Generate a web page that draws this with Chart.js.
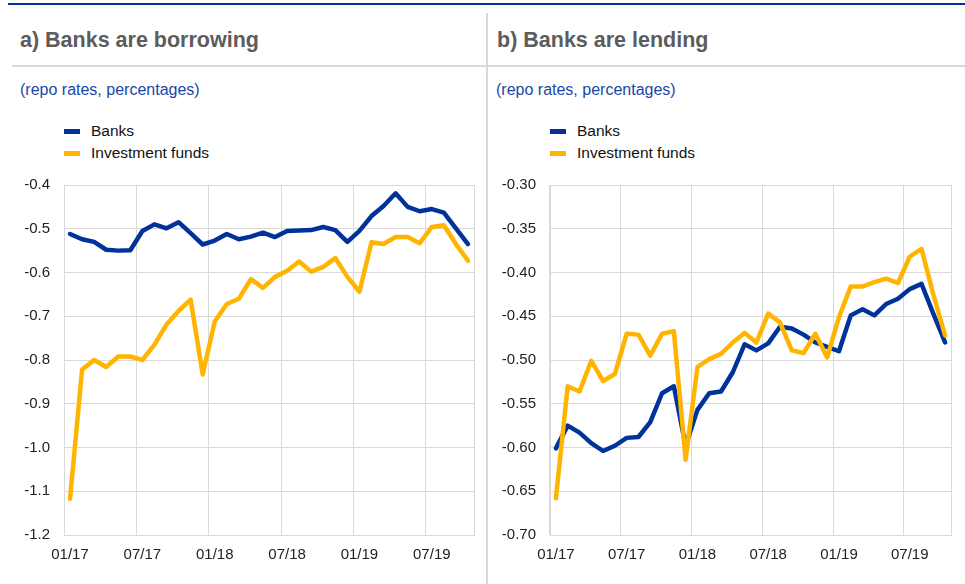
<!DOCTYPE html>
<html>
<head>
<meta charset="utf-8">
<script src="https://cdn.jsdelivr.net/npm/chart.js@4.4.1/dist/chart.umd.min.js"></script>
<style>
  body { margin: 0; background: #fff; font-family: "Liberation Sans", Arial, sans-serif; }
  #page { position: relative; width: 965px; height: 584px; overflow: hidden; }
  .topline { position: absolute; left: 8px; top: 3px; width: 957px; height: 2px; background: #003299; }
  .headline { position: absolute; left: 12px; top: 65px; width: 953px; height: 2px; background: #d9d9d9; }
  .sep { position: absolute; left: 486px; top: 13px; width: 2px; height: 571px; background: #d9d9d9; }
  .title { position: absolute; top: 28px; font-size: 21.5px; font-weight: bold; color: #5c5c5c; white-space: nowrap; }
  .sub { position: absolute; top: 81px; font-size: 16px; color: #1a47a6; white-space: nowrap; }
  .legend { position: absolute; top: 121px; font-size: 15.5px; color: #111; }
  .legend div { position: relative; height: 22px; line-height: 20px; padding-left: 27px; white-space: nowrap; }
  .legend span { position: absolute; left: 0; top: 8px; width: 16px; height: 5px; }
  canvas { position: absolute; top: 170px; }
</style>
</head>
<body>
<div id="page">
  <div class="topline"></div>
  <div class="headline"></div>
  <div class="sep"></div>

  <div class="title" style="left:20px">a) Banks are borrowing</div>
  <div class="title" style="left:497px">b) Banks are lending</div>
  <div class="sub" style="left:20px">(repo rates, percentages)</div>
  <div class="sub" style="left:496px">(repo rates, percentages)</div>
  <div class="legend" id="legendA" style="left:64px"></div>
  <div class="legend" id="legendB" style="left:550px"></div>

  <canvas id="chartA" width="487" height="414" style="left:0px"></canvas>
  <canvas id="chartB" width="477" height="414" style="left:488px"></canvas>
</div>

<script>
// months Jan 2017 - Oct 2019
const months = [
  '01/17', '02/17', '03/17', '04/17', '05/17', '06/17', '07/17', '08/17', '09/17', '10/17', '11/17', '12/17',
  '01/18', '02/18', '03/18', '04/18', '05/18', '06/18', '07/18', '08/18', '09/18', '10/18', '11/18', '12/18',
  '01/19', '02/19', '03/19', '04/19', '05/19', '06/19', '07/19', '08/19', '09/19', '10/19'
];

// a) banks are borrowing
const borrowBanks = [
  -0.512, -0.524, -0.530, -0.548, -0.550, -0.549, -0.505, -0.490, -0.499, -0.485, -0.510, -0.536,
  -0.527, -0.512, -0.524, -0.518, -0.509, -0.519, -0.505, -0.504, -0.503, -0.496, -0.503, -0.530,
  -0.505, -0.471, -0.448, -0.419, -0.450, -0.460, -0.455, -0.463, -0.499, -0.535
];
const borrowFunds = [
  -1.117, -0.822, -0.800, -0.816, -0.792, -0.792, -0.800, -0.765, -0.719, -0.688, -0.662, -0.833,
  -0.712, -0.672, -0.660, -0.615, -0.635, -0.610, -0.596, -0.575, -0.598, -0.587, -0.567, -0.610,
  -0.644, -0.531, -0.535, -0.519, -0.519, -0.533, -0.496, -0.492, -0.535, -0.573
];

// b) banks are lending
const lendBanks = [
  -0.601, -0.575, -0.583, -0.595, -0.604, -0.598, -0.589, -0.588, -0.571, -0.538, -0.530, -0.598,
  -0.557, -0.538, -0.536, -0.514, -0.482, -0.489, -0.481, -0.462, -0.464, -0.471, -0.480, -0.485,
  -0.490, -0.449, -0.442, -0.449, -0.436, -0.430, -0.419, -0.413, -0.447, -0.480
];
const lendFunds = [
  -0.658, -0.530, -0.536, -0.501, -0.524, -0.516, -0.470, -0.471, -0.495, -0.470, -0.467, -0.614,
  -0.508, -0.499, -0.493, -0.480, -0.469, -0.480, -0.447, -0.457, -0.489, -0.492, -0.470, -0.497,
  -0.451, -0.416, -0.416, -0.411, -0.407, -0.412, -0.382, -0.373, -0.425, -0.472
];

const ticksA = [-1.2, -1.1, -1.0, -0.9, -0.8, -0.7, -0.6, -0.5, -0.4];
const ticksB = [-0.70, -0.65, -0.60, -0.55, -0.50, -0.45, -0.40, -0.35, -0.30];

const seriesNames = ['Banks', 'Investment funds'];
const blue = '#003299';
const yellow = '#ffb400';
const gridGray = '#d9d9d9';
const tickFont = { family: '"Liberation Sans", Arial, sans-serif', size: 15 };

function makeLegend(id) {
  const box = document.getElementById(id);
  box.innerHTML = seriesNames.map((name, i) =>
    `<div><span style="background:${i === 0 ? blue : yellow}"></span>${name}</div>`
  ).join('');
}

function makeChart(canvasId, banks, funds, yTicks, decimals, yWidth, padRight) {
  const ctx = document.getElementById(canvasId).getContext('2d');
  return new Chart(ctx, {
    type: 'line',
    data: {
      labels: months,
      datasets: [{
        label: seriesNames[0],
        data: banks,
        borderColor: blue,
        borderWidth: 4.5,
        pointRadius: 0,
        tension: 0,
        order: 1,
        borderJoinStyle: 'round',
        borderCapStyle: 'round'
      }, {
        label: seriesNames[1],
        data: funds,
        borderColor: yellow,
        borderWidth: 4.5,
        pointRadius: 0,
        tension: 0,
        order: 0,
        borderJoinStyle: 'round',
        borderCapStyle: 'round'
      }]
    },
    options: {
      responsive: false,
      animation: false,
      devicePixelRatio: 1,
      layout: { padding: { top: 15, right: padRight, left: 0, bottom: 0 } },
      plugins: {
        legend: { display: false },
        tooltip: { enabled: false }
      },
      scales: {
        x: {
          offset: true,
          grid: {
            offset: true,
            drawTicks: false,
            lineWidth: 1,
            color: (c) => (c.index === undefined || c.index % 6 === 0) ? gridGray : 'rgba(0,0,0,0)'
          },
          border: { color: gridGray, width: 1 },
          ticks: {
            autoSkip: false,
            maxRotation: 0,
            padding: 11,
            color: '#222',
            font: tickFont,
            callback: function (val, index) {
              return index % 6 === 0 ? months[index] : '';
            }
          },
          afterFit: (scale) => { scale.height = 49; }
        },
        y: {
          min: yTicks[0],
          max: yTicks[yTicks.length - 1],
          afterBuildTicks: (scale) => { scale.ticks = yTicks.map(v => ({ value: v })); },
          grid: { drawTicks: false, color: gridGray, lineWidth: 1 },
          border: { color: gridGray, width: 1 },
          ticks: {
            padding: 14,
            color: '#222',
            font: tickFont,
            callback: (v) => Number(v).toFixed(decimals)
          },
          afterFit: (scale) => {
            scale.width = yWidth;
            scale.paddingTop = 0;
            scale.paddingBottom = 0;
          }
        }
      }
    }
  });
}

makeLegend('legendA');
makeLegend('legendB');
makeChart('chartA', borrowBanks, borrowFunds, ticksA, 1, 64, 13);
makeChart('chartB', lendBanks, lendFunds, ticksB, 2, 62, 14);
</script>
</body>
</html>
